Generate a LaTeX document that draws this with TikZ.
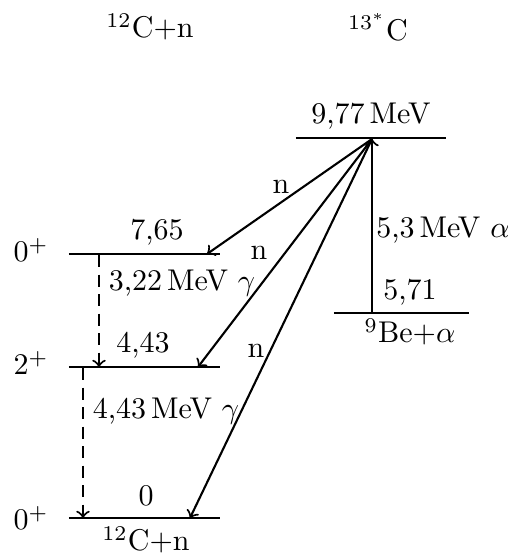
\documentclass[tikz,border=0pt]{standalone}
\begin{document}
\begin{tikzpicture}[x=0.3333pt,y=-0.3333pt,
  lvl/.style={line width=0.8pt},
  tr/.style={line width=0.7pt,->},
  gam/.style={line width=0.7pt,->,dash pattern=on 4pt off 2.5pt},
  lab/.style={inner sep=1pt}]
\useasboundingbox (0,0) rectangle (508,554);
% titles
\node[lab] (t1) at (150,27) {$^{12}$C+n};
\node[lab] (t2) at (378,27) {$^{13^*}$C};
% levels
\coordinate (Al) at (296,138); \coordinate (Ar) at (446,138);
\coordinate (Bl) at (69,254);  \coordinate (Br) at (220,254);
\coordinate (Cl) at (69,367);  \coordinate (Cr) at (220,367);
\coordinate (Dl) at (69,518);  \coordinate (Dr) at (220,518);
\coordinate (El) at (334,313); \coordinate (Er) at (469,313);
\draw[lvl] (Al) -- (Ar);
\draw[lvl] (Bl) -- (Br);
\draw[lvl] (Cl) -- (Cr);
\draw[lvl] (Dl) -- (Dr);
\draw[lvl] (El) -- (Er);
% level labels
\node[lab] (eA) at (371,116) {9,77\,MeV};
\node[lab] (eB) at (157,232) {7,65};
\node[lab] (eC) at (143,345) {4,43};
\node[lab] (eD) at (146,496) {0};
\node[lab] (eE) at (410,292) {5,71};
\node[lab] (nD) at (146,540) {$^{12}$C+n};
\node[lab] (nE) at (410,332) {$^{9}$Be+$\alpha$};
\node[lab] (sB) at (31,250) {$0^+$};
\node[lab] (sC) at (31,363) {$2^+$};
\node[lab] (sD) at (31,518) {$0^+$};
% transitions
\coordinate (S) at (372,139);
\coordinate (E0) at (372,313);
\coordinate (nB) at (207,254);
\coordinate (nC) at (198,367);
\coordinate (nDD) at (190,518);
\draw[tr] (E0) -- (S);
\draw[tr] (S) -- (nB);
\draw[tr] (S) -- (nC);
\draw[tr] (S) -- (nDD);
\node[lab] (la) at (443,230) {5,3\,MeV $\alpha$};
\node[lab] (ln1) at (281,187) {n};
\node[lab] (ln2) at (259,253) {n};
\node[lab] (ln3) at (256,351) {n};
% gamma
\coordinate (g1a) at (99,255); \coordinate (g1b) at (99,367);
\coordinate (g2a) at (83,368); \coordinate (g2b) at (83,518);
\draw[gam] (g1a) -- (g1b);
\draw[gam] (g2a) -- (g2b);
\node[lab] (lg1) at (182,283) {3,22\,MeV $\gamma$};
\node[lab] (lg2) at (166,411) {4,43\,MeV $\gamma$};
\end{tikzpicture}
\end{document}
